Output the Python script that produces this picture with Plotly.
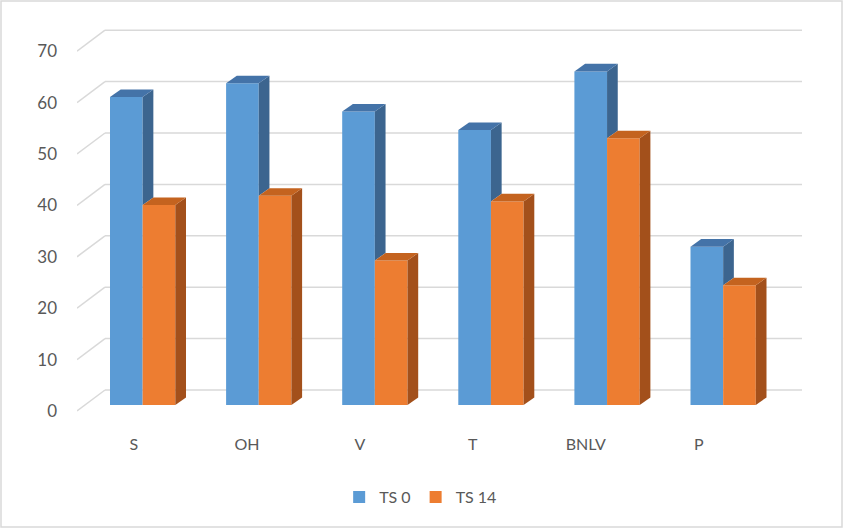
import plotly.graph_objects as go

categories = ["S", "OH", "V", "T", "BNLV", "P"]
ts0 = [59.9, 62.6, 57.1, 53.5, 64.9, 30.8]
ts14 = [38.9, 40.7, 28.1, 39.6, 51.9, 23.3]
series_names = ["TS 0", "TS 14"]
y_ticks = [0, 10, 20, 30, 40, 50, 60, 70]

W, H = 843, 528
# plot area in pixels
L, R, T, B = 77, 810, 20, 425
PX_PER_X = 116.1          # pixels per category
X0_PX = 142.65            # pixel of category 0 centre
PX_PER_V = 5.14           # pixels per value unit
V0_PX = 405               # pixel of value 0 on bar front plane

x_range = [(L - X0_PX) / PX_PER_X, (R - X0_PX) / PX_PER_X]
y_range = [(V0_PX - B) / PX_PER_V, (V0_PX - T) / PX_PER_V]

bar_w = 0.28125           # width of one bar in category units
dx = 10.7 / PX_PER_X      # depth offset of bar (x)
dv = 7.6 / PX_PER_V       # depth offset of bar (value)
front_dv = -6 / PX_PER_V  # floor front edge relative to bar plane
back_dv = 15 / PX_PER_V   # back wall relative to bar plane
wall_x0 = (105 - X0_PX) / PX_PER_X
wall_x1 = (802 - X0_PX) / PX_PER_X

front_cols = ["#5B9BD5", "#ED7D31"]
top_cols = ["#4473A8", "#C4631F"]
side_cols = ["#3C658F", "#A3501B"]
grid_col = "#D9D9D9"
text_col = "#595959"
FONT = "Lato"

fig = go.Figure()

# front faces as bars
for s, vals in enumerate([ts0, ts14]):
    fig.add_trace(go.Bar(
        x=list(range(len(categories))), y=vals, name=series_names[s],
        marker=dict(color=front_cols[s], line=dict(width=0)),
        offsetgroup=str(s), hoverinfo="skip",
    ))

# top and side faces
for i in range(len(categories)):
    for s, vals in enumerate([ts0, ts14]):
        v = vals[i]
        xl = i - bar_w + s * bar_w
        xr = xl + bar_w
        # side face (for blue, only part visible above the orange bar)
        if s == 0:
            vo = ts14[i]
            if v > vo:
                sx = [xr, xr + dx, xr + dx, xr, xr]
                sy = [vo, vo + dv, v + dv, v, vo]
            else:
                sx, sy = None, None
        else:
            sx = [xr, xr + dx, xr + dx, xr, xr]
            sy = [0, dv, v + dv, v, 0]
        if sx:
            fig.add_trace(go.Scatter(x=sx, y=sy, fill="toself", mode="lines",
                                     line=dict(width=0), fillcolor=side_cols[s],
                                     showlegend=False, hoverinfo="skip"))
        tx = [xl, xr, xr + dx, xl + dx, xl]
        ty = [v, v, v + dv, v + dv, v]
        fig.add_trace(go.Scatter(x=tx, y=ty, fill="toself", mode="lines",
                                 line=dict(width=0), fillcolor=top_cols[s],
                                 showlegend=False, hoverinfo="skip"))

shapes = []
for t in y_ticks:
    shapes.append(dict(type="line", xref="x", yref="y", layer="below",
                       x0=x_range[0], y0=t + front_dv, x1=wall_x0, y1=t + back_dv,
                       line=dict(color=grid_col, width=1.5)))
    shapes.append(dict(type="line", xref="x", yref="y", layer="below",
                       x0=wall_x0, y0=t + back_dv, x1=wall_x1, y1=t + back_dv,
                       line=dict(color=grid_col, width=1.5)))

pw, ph = R - L, B - T
shapes.append(dict(type="rect", xref="paper", yref="paper", layer="above",
                   x0=(1 - L) / pw, x1=(W - 1 - L) / pw,
                   y0=(B - (H - 1)) / ph, y1=(B - 1) / ph,
                   line=dict(color="#D9D9D9", width=1.5)))

fig.update_layout(
    width=W, height=H,
    margin=dict(l=L, r=W - R, t=T, b=H - B, pad=0),
    paper_bgcolor="white", plot_bgcolor="rgba(0,0,0,0)",
    barmode="group", bargap=1 - 2 * bar_w, bargroupgap=0,
    font=dict(family=FONT, size=16, color=text_col),
    showlegend=True,
    legend=dict(orientation="h", x=0.499, xanchor="center", xref="container",
                y=(H - 497) / H, yanchor="middle", yref="container",
                font=dict(size=16, color=text_col), itemwidth=30,
                tracegroupgap=0, bgcolor="rgba(0,0,0,0)"),
    xaxis=dict(range=x_range, showgrid=False, zeroline=False, showline=False,
               tickmode="array",
               tickvals=[i - 0.075 - 0.027 * i for i in range(len(categories))],
               ticktext=categories, ticks="", ticklabelstandoff=8,
               tickfont=dict(size=16), fixedrange=True),
    yaxis=dict(range=y_range, showgrid=False, zeroline=False, showline=False,
               tickmode="array", tickvals=[t + front_dv for t in y_ticks],
               ticktext=[str(t) for t in y_ticks], ticks="",
               ticklabelstandoff=19, tickfont=dict(size=17), fixedrange=True),
    shapes=shapes,
)

fig.write_html("out.html", config={"displayModeBar": False},
               post_script="document.body.style.margin='0';document.body.style.overflow='hidden';")
